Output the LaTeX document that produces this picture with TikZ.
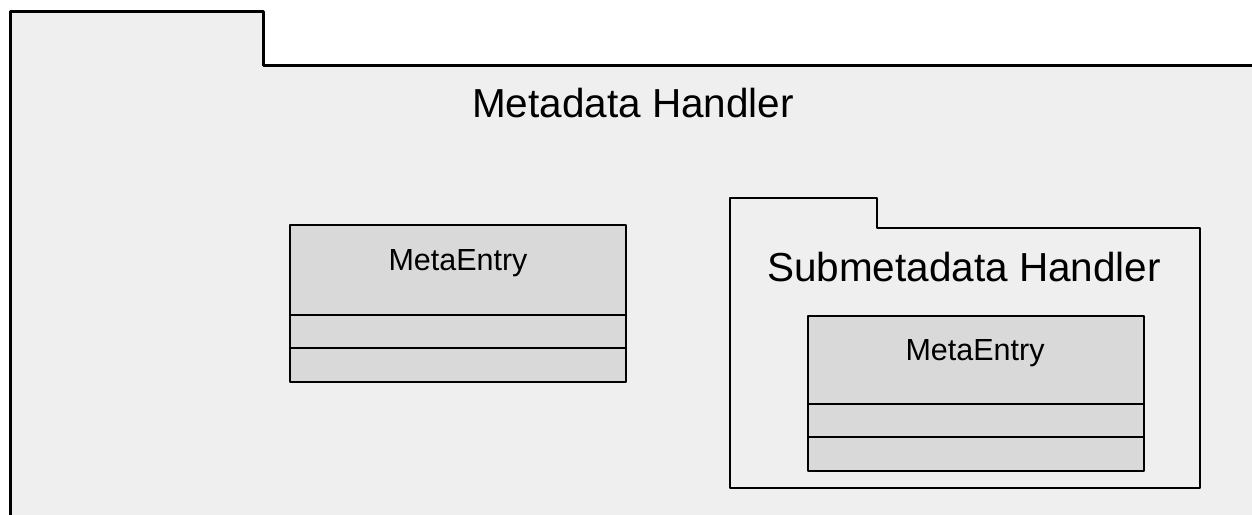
\documentclass[tikz,border=0pt]{standalone}
\usepackage{fontspec}
\setmainfont{Liberation Sans}
\begin{document}
\begin{tikzpicture}[x=1pt,y=-1pt,
  pkg/.style={draw=black,fill=pkgfill,line width=2.4pt,line join=round},
  cls/.style={draw=black,fill=clsfill,line width=2.6pt,line join=round},
  bigtxt/.style={font=\fontsize{40.5}{48}\selectfont,anchor=base,inner sep=0pt},
  smalltxt/.style={font=\fontsize{30.5}{36}\selectfont,anchor=base,inner sep=0pt}]
\definecolor{pkgfill}{HTML}{EFEFEF}
\definecolor{clsfill}{HTML}{D9D9D9}
\useasboundingbox (0,0) rectangle (1252,514);
\clip (0,0) rectangle (1252,514);
\fill[white] (0,0) rectangle (1252,514);
% outer package
\draw[pkg,line width=3pt] (10,530) -- (10,11) -- (263,11) -- (263,65) -- (1270,65) -- (1270,530) -- cycle;
\node[bigtxt] (outerlbl) at (633,117.5) {Metadata Handler};
% left class
\draw[cls] (290,225) rectangle (626,382);
\draw[cls] (290,315) -- (626,315);
\draw[cls] (290,348) -- (626,348);
\node[smalltxt] (lefttxt) at (458,270) {MetaEntry};
% sub package
\draw[pkg] (730,198) -- (877,198) -- (877,228) -- (1200,228) -- (1200,488) -- (730,488) -- cycle;
\node[bigtxt] (sublbl) at (964,281) {Submetadata Handler};
% inner class
\draw[cls] (808,316) rectangle (1144,471);
\draw[cls] (808,404) -- (1144,404);
\draw[cls] (808,437) -- (1144,437);
\node[smalltxt] (innertxt) at (975,360) {MetaEntry};
\end{tikzpicture}
\end{document}
